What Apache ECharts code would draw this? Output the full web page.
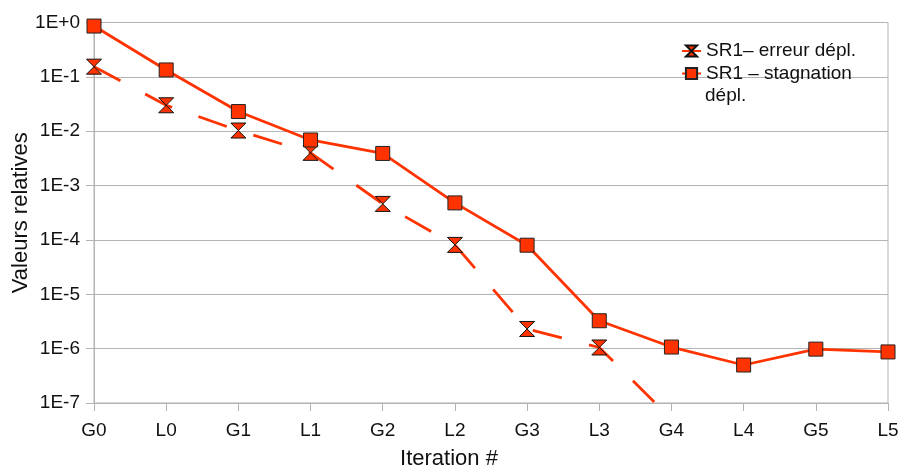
<!DOCTYPE html>
<html>
<head>
<meta charset="utf-8">
<script src="https://cdn.jsdelivr.net/npm/echarts@6/dist/echarts.min.js"></script>
<style>
  html, body { margin: 0; padding: 0; background: #fff; }
  #chart { width: 898px; height: 470px; }
</style>
</head>
<body>
<div id="chart"></div>
<script>
// ---- data ----
const categories = ['G0', 'L0', 'G1', 'L1', 'G2', 'L2', 'G3', 'L3', 'G4', 'L4', 'G5', 'L5'];
const erreurName = 'SR1– erreur dépl.';
const stagnationName = 'SR1 – stagnation dépl.';
const stagnationLines = ['SR1 – stagnation', 'dépl.'];
const erreurValues = [0.154, 0.030, 0.0103, 0.0040, 4.6e-4, 8.1e-5, 2.3e-6, 1.05e-6, 5.1e-8, null, null, null];
const stagnationValues = [0.86, 0.134, 0.023, 0.0069, 0.0039, 4.8e-4, 8.0e-5, 3.26e-6, 1.07e-6, 5.0e-7, 9.8e-7, 8.7e-7];
const yTickLabels = ['1E-7', '1E-6', '1E-5', '1E-4', '1E-3', '1E-2', '1E-1', '1E+0'];
const yMinExp = -7;
const xTitle = 'Iteration #';
const yTitle = 'Valeurs relatives';

// ---- chart ----
const FONT = 'Liberation Sans, Arial, sans-serif';
const RED = '#ff3300';
const GRAY = '#b3b3b3';
const TXT = '#111';
const hourglass = 'path://M0,0 L10,0 L0,10 L10,10 Z';

const chart = echarts.init(document.getElementById('chart'), null, { renderer: 'canvas' });
chart.setOption({
  animation: false,
  backgroundColor: '#fff',
  textStyle: { fontFamily: FONT },
  title: {
    text: xTitle,
    left: 'center',
    top: 448,
    padding: 0,
    textStyle: { fontFamily: FONT, fontSize: 22, fontWeight: 'normal', color: TXT }
  },
  grid: {
    left: 94, right: 10, top: 22.5, bottom: 67,
    show: true, borderColor: GRAY, borderWidth: 1,
    containLabel: false, outerBoundsMode: 'none'
  },
  legend: [
    {
      data: [erreurName],
      left: 681, top: 41, padding: 0,
      itemWidth: 19, itemHeight: 14,
      textStyle: { fontFamily: FONT, fontSize: 19, color: TXT, lineHeight: 20 }
    },
    {
      data: [stagnationName],
      left: 681, top: 63.5, padding: 0,
      itemWidth: 19, itemHeight: 14,
      formatter: function () { return stagnationLines[0]; },
      textStyle: { fontFamily: FONT, fontSize: 19, color: TXT, lineHeight: 20 }
    }
  ],
  graphic: [
    {
      type: 'text',
      left: 705, top: 86,
      style: { text: stagnationLines[1], font: '19px ' + FONT, fill: TXT }
    }
  ],
  xAxis: {
    type: 'category',
    data: categories,
    boundaryGap: false,
    axisLine: { show: true, lineStyle: { color: GRAY, width: 1 } },
    axisTick: { show: true, length: 8, lineStyle: { color: GRAY } },
    axisLabel: { margin: 18, fontFamily: FONT, fontSize: 19, color: TXT },
    splitLine: { show: false }
  },
  yAxis: {
    type: 'log',
    logBase: 10,
    min: 1e-7,
    max: 1,
    name: yTitle,
    nameLocation: 'middle',
    nameGap: 62,
    nameRotate: 90,
    nameMoveOverlap: false,
    nameTextStyle: { fontFamily: FONT, fontSize: 22, color: TXT },
    axisLine: { show: true, lineStyle: { color: GRAY, width: 1 } },
    axisTick: { show: true, length: 8, lineStyle: { color: GRAY } },
    axisLabel: {
      margin: 14, fontFamily: FONT, fontSize: 19, color: TXT,
      formatter: function (v) {
        const e = Math.round(Math.log10(v));
        return yTickLabels[e - yMinExp] || '';
      }
    },
    splitLine: { show: true, lineStyle: { color: GRAY, width: 1 } },
    minorTick: { show: false }
  },
  series: [
    {
      name: erreurName,
      type: 'line',
      data: erreurValues,
      connectNulls: false,
      clip: true,
      symbol: hourglass,
      symbolSize: [15, 15],
      showAllSymbol: true,
      lineStyle: { color: RED, width: 2.8, type: [30, 28], dashOffset: 0 },
      itemStyle: { color: RED, borderColor: '#111', borderWidth: 1 },
      z: 2
    },
    {
      name: stagnationName,
      type: 'line',
      data: stagnationValues,
      clip: true,
      symbol: 'rect',
      symbolSize: 14,
      showAllSymbol: true,
      lineStyle: { color: RED, width: 2.8 },
      itemStyle: { color: RED, borderColor: '#222', borderWidth: 1 },
      z: 3
    }
  ]
});
</script>
</body>
</html>
